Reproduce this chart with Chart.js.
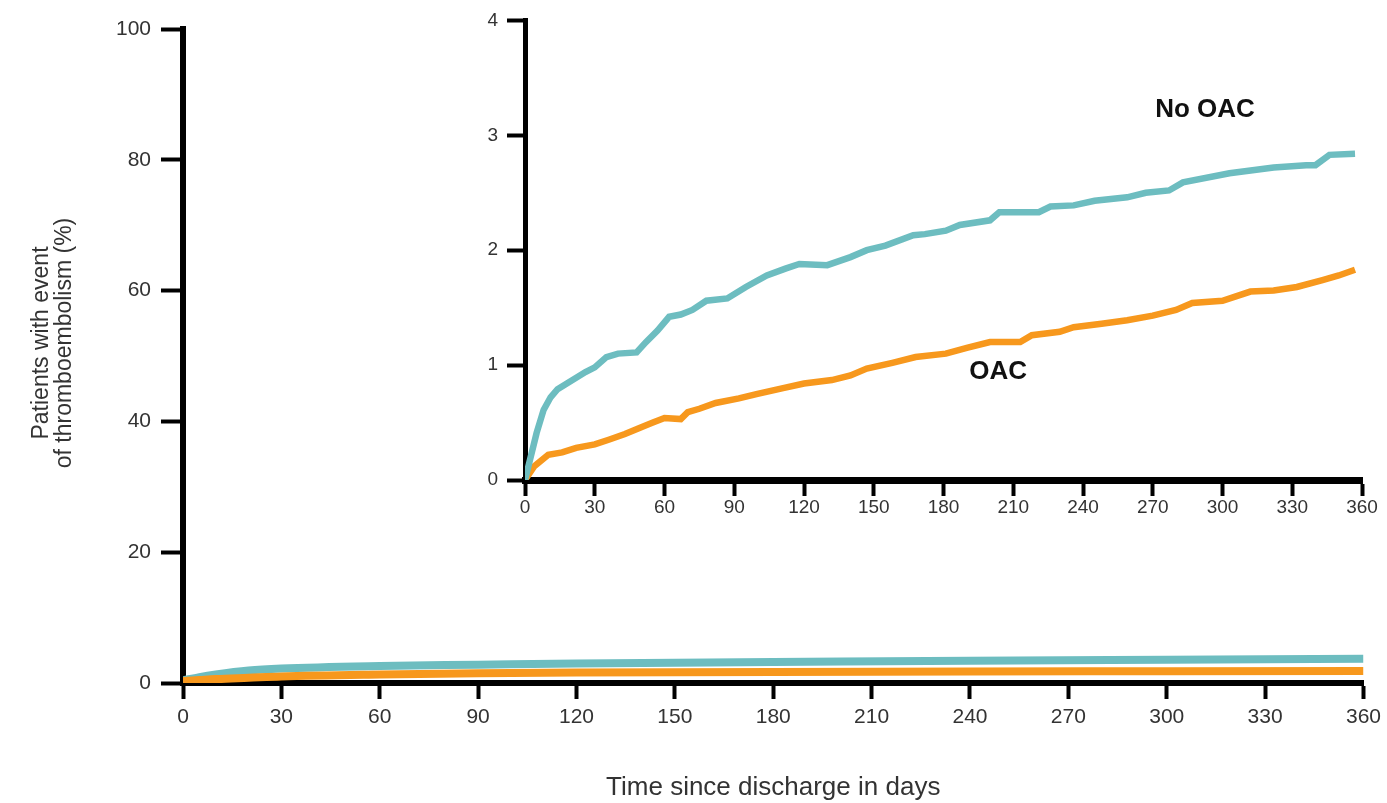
<!DOCTYPE html>
<html>
<head>
<meta charset="utf-8">
<script src="https://cdn.jsdelivr.net/npm/chart.js@4.4.1/dist/chart.umd.min.js"></script>
<style>
  html, body { margin: 0; padding: 0; background: #fff; }
  #wrap  { position: relative; width: 1387px; height: 803px; overflow: hidden; }
  #main  { position: absolute; left: 0; top: 0; }
  #inset { position: absolute; left: 430px; top: 0; }
</style>
</head>
<body>
<div id="wrap">
  <canvas id="main" width="1387" height="803"></canvas>
  <canvas id="inset" width="957" height="540"></canvas>
</div>
<script>
// tick labels
const dayTicks    = [0, 30, 60, 90, 120, 150, 180, 210, 240, 270, 300, 330, 360];
const mainYTicks  = [0, 20, 40, 60, 80, 100];
const insetYTicks = [0, 1, 2, 3, 4];
const yTitle      = ['Patients with event', 'of thromboembolism (%)'];

// full-scale plot (0-100 %)
const mainDays  = [0, 5, 10, 20, 30, 60, 90, 120, 180, 240, 300, 360];
const mainNoOac = [0.4, 0.9, 1.3, 1.9, 2.2, 2.6, 2.8, 3.0, 3.2, 3.4, 3.55, 3.7];
const mainOac   = [0.3, 0.45, 0.6, 0.8, 1.0, 1.3, 1.5, 1.6, 1.7, 1.75, 1.8, 1.85];

// zoomed inset (0-4 %)
const noOacDays = [0, 5, 8, 11, 14, 18, 26, 30, 35, 40, 48, 52, 57, 62, 67, 72, 78, 87, 95, 104, 112, 118,
                   130, 140, 147, 155, 167, 172, 181, 187, 200, 204, 221, 226, 236, 245, 259, 267, 277, 283,
                   303, 322, 336, 340, 346, 357];
const noOacRisk = [0, 0.41, 0.61, 0.72, 0.79, 0.84, 0.94, 0.98, 1.07, 1.1, 1.11, 1.2, 1.3, 1.42, 1.44, 1.48,
                   1.56, 1.58, 1.68, 1.78, 1.84, 1.88, 1.87, 1.94, 2.0, 2.04, 2.13, 2.14, 2.17, 2.22, 2.26,
                   2.33, 2.33, 2.38, 2.39, 2.43, 2.46, 2.5, 2.52, 2.59, 2.67, 2.72, 2.74, 2.74, 2.83, 2.84];
const oacDays   = [0, 4, 10, 16, 22, 30, 36, 43, 50, 55, 60, 67, 70, 75, 82, 92, 100, 111, 120, 132, 140,
                   147, 158, 168, 181, 190, 200, 213, 218, 230, 236, 248, 259, 270, 280, 287, 300, 312, 322,
                   332, 343, 350, 357];
const oacRisk   = [0, 0.12, 0.22, 0.24, 0.28, 0.31, 0.35, 0.4, 0.46, 0.5, 0.54, 0.53, 0.59, 0.62, 0.67, 0.71,
                   0.75, 0.8, 0.84, 0.87, 0.91, 0.97, 1.02, 1.07, 1.1, 1.15, 1.2, 1.2, 1.26, 1.29, 1.33, 1.36,
                   1.39, 1.43, 1.48, 1.54, 1.56, 1.64, 1.65, 1.68, 1.74, 1.78, 1.83];

const TEAL   = '#6dbdc0';
const ORANGE = '#f7981d';
const INK    = '#333';
const FONT   = "'Liberation Sans', Arial, sans-serif";

const pts = (xs, ys) => xs.map((x, i) => ({ x, y: ys[i] }));
const fixTicks = (vals) => (axis) => { axis.ticks = vals.map((v) => ({ value: v })); };

function axisStyle(o) {
  return {
    type: 'linear',
    min: o.min, max: o.max,
    afterBuildTicks: fixTicks(o.ticks),
    afterFit: o.fit,
    border: { display: true, color: '#000', width: o.border },
    grid: { drawOnChartArea: false, drawTicks: true, tickLength: o.tick, tickWidth: 4, tickColor: '#000' },
    ticks: { color: INK, padding: o.pad, font: { family: FONT, size: o.size }, maxRotation: 0, autoSkip: false },
    title: o.title || { display: false },
  };
}

// two-line rotated y title, placed a touch above the axis centre like the original
const yTitlePlugin = {
  id: 'yTitle',
  afterDraw(chart) {
    const { ctx } = chart;
    ctx.save();
    ctx.fillStyle = INK;
    ctx.font = '23px ' + FONT;
    ctx.textAlign = 'center';
    ctx.textBaseline = 'alphabetic';
    ctx.translate(48, 343);
    ctx.rotate(-Math.PI / 2);
    yTitle.forEach((line, i) => ctx.fillText(line, 0, i * 23));
    ctx.restore();
  },
};

new Chart(document.getElementById('main'), {
  type: 'line',
  data: {
    datasets: [
      { label: 'OAC',    data: pts(mainDays, mainOac),   borderColor: ORANGE, borderWidth: 8, pointRadius: 0, cubicInterpolationMode: 'monotone', order: 0 },
      { label: 'No OAC', data: pts(mainDays, mainNoOac), borderColor: TEAL,   borderWidth: 8, pointRadius: 0, cubicInterpolationMode: 'monotone', order: 1 },
    ],
  },
  options: {
    responsive: false,
    animation: false,
    events: [],
    layout: { padding: { left: 0, top: 29, right: 22, bottom: 0 } },
    plugins: { legend: { display: false }, tooltip: { enabled: false } },
    scales: {
      x: axisStyle({
        min: 0, max: 360, ticks: dayTicks, border: 6, tick: 16, pad: 6, size: 21,
        fit: (a) => { a.height = 120; },
        title: { display: true, text: 'Time since discharge in days', color: INK,
                 font: { family: FONT, size: 26, lineHeight: 1.2 }, padding: { top: 0, bottom: 0 } },
      }),
      y: axisStyle({
        min: 0, max: 100, ticks: mainYTicks, border: 6, tick: 22, pad: 10, size: 21,
        fit: (a) => { a.width = 183; },
      }),
    },
  },
  plugins: [yTitlePlugin],
});

const curveLabels = {
  id: 'curveLabels',
  afterDatasetsDraw(chart) {
    const { ctx, scales: { x, y } } = chart;
    ctx.save();
    ctx.fillStyle = '#111';
    ctx.font = 'bold 26px ' + FONT;
    ctx.textAlign = 'center';
    ctx.textBaseline = 'middle';
    ctx.fillText('No OAC', x.getPixelForValue(292.5), y.getPixelForValue(3.22));
    ctx.fillText('OAC', x.getPixelForValue(203.5), y.getPixelForValue(0.94));
    ctx.restore();
  },
};

new Chart(document.getElementById('inset'), {
  type: 'line',
  data: {
    datasets: [
      { label: 'No OAC', data: pts(noOacDays, noOacRisk), borderColor: TEAL,   borderWidth: 6.5, pointRadius: 0, tension: 0, order: 0 },
      { label: 'OAC',    data: pts(oacDays, oacRisk),     borderColor: ORANGE, borderWidth: 6.5, pointRadius: 0, tension: 0, order: 1 },
    ],
  },
  options: {
    responsive: false,
    animation: false,
    events: [],
    layout: { padding: { left: 0, top: 19, right: 25, bottom: 0 } },
    plugins: { legend: { display: false }, tooltip: { enabled: false } },
    scales: {
      x: axisStyle({ min: 0, max: 360, ticks: dayTicks, border: 7, tick: 16, pad: 0, size: 19,
                     fit: (a) => { a.height = 60; } }),
      y: axisStyle({ min: 0, max: 4, ticks: insetYTicks, border: 5, tick: 18, pad: 9, size: 19,
                     fit: (a) => { a.width = 95; } }),
    },
  },
  plugins: [curveLabels],
});
</script>
</body>
</html>
